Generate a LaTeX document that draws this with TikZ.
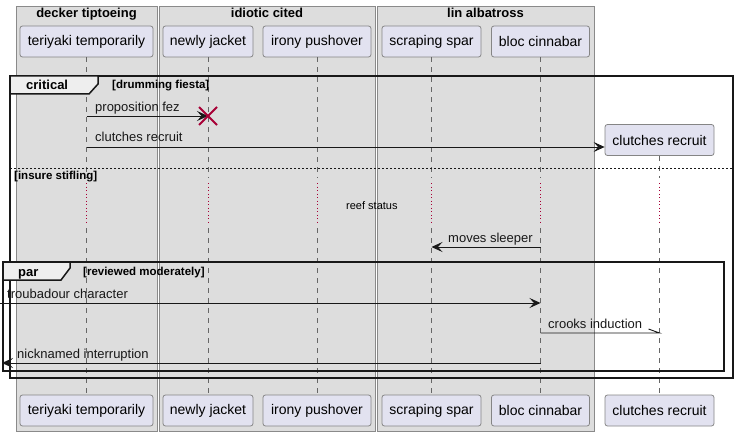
\documentclass[tikz,border=0pt]{standalone}
\usepackage{fontspec}
\setmainfont{Liberation Sans}
\usetikzlibrary{arrows.meta,calc}
\definecolor{grpbg}{HTML}{DDDDDD}
\definecolor{grpln}{HTML}{8A8A8A}
\definecolor{partbg}{HTML}{E2E2F0}
\definecolor{partln}{HTML}{858585}
\definecolor{lifeln}{HTML}{666666}
\definecolor{dred}{HTML}{A80036}
\definecolor{tabbg}{HTML}{EEEEEE}
\definecolor{ink}{HTML}{181818}
\tikzset{
  grp/.style={draw=grpln, fill=grpbg, line width=0.8pt},
  grptitle/.style={font=\fontsize{13}{15}\selectfont\bfseries, anchor=base, inner sep=0pt},
  part/.style={draw=partln, fill=partbg, rounded corners=2.5pt, minimum height=31pt, inner sep=0pt, line width=0.8pt, font=\fontsize{14}{16}\selectfont},
  life/.style={draw=lifeln, dash pattern=on 5pt off 5pt, line width=0.7pt},
  delayline/.style={draw=dred, dash pattern=on 1pt off 2.5pt, line width=1pt},
  msg/.style={draw=ink, line width=0.9pt, -{Stealth[length=11pt,width=10pt,inset=4.5pt]}},
  msgplain/.style={draw=ink, line width=0.9pt},
  lbl/.style={font=\fontsize{13}{15}\selectfont, anchor=base west, inner sep=0pt, text=ink},
  frm/.style={draw=ink, line width=1.5pt},
  tab/.style={draw=ink, fill=tabbg, line width=1.5pt},
  frmlabel/.style={font=\fontsize{13}{15}\selectfont\bfseries, anchor=base west, inner sep=0pt},
  cond/.style={font=\fontsize{11.5}{13}\selectfont\bfseries, anchor=base west, inner sep=0pt}
}
\begin{document}
\begin{tikzpicture}[x=1pt,y=-1pt]
\useasboundingbox (0,0) rectangle (740,436);
% group boxes
\draw[grp] (16,6) rectangle (157,431);
\draw[grp] (159,6) rectangle (375,431);
\draw[grp] (377,6) rectangle (594,431);
\node[grptitle] (g1) at (86.5,18) {decker tiptoeing};
\node[grptitle] (g2) at (267,18) {idiotic cited};
\node[grptitle] (g3) at (485.5,18) {lin albatross};
% participants top
\node[part, minimum width=133pt] (tt) at (86.5,41.5) {teriyaki temporarily};
\node[part, minimum width=90pt] (nj) at (208,41.5) {newly jacket};
\node[part, minimum width=108pt] (ip) at (317,41.5) {irony pushover};
\node[part, minimum width=99pt] (ss) at (431.5,41.5) {scraping spar};
\node[part, minimum width=98pt] (bc) at (540.5,41.5) {bloc cinnabar};
\node[part, minimum width=109pt] (cr) at (659.5,140) {clutches recruit};
% participants bottom
\node[part, minimum width=133pt] (ttb) at (86.5,410.5) {teriyaki temporarily};
\node[part, minimum width=90pt] (njb) at (208,410.5) {newly jacket};
\node[part, minimum width=108pt] (ipb) at (317,410.5) {irony pushover};
\node[part, minimum width=99pt] (ssb) at (431.5,410.5) {scraping spar};
\node[part, minimum width=98pt] (bcb) at (540.5,410.5) {bloc cinnabar};
\node[part, minimum width=109pt] (crb) at (659.5,410.5) {clutches recruit};
% lifelines
\foreach \p in {tt,nj,ip,ss,bc}{
  \draw[life] (\p.south) -- (\p.center |- 0,178);
  \draw[delayline] (\p.center |- 0,183) -- (\p.center |- 0,223);
  \draw[life] (\p.center |- 0,228) -- (\p b.north);
}
\draw[life] (cr.south) -- (cr.center |- 0,178);
\draw[delayline] (cr.center |- 0,183) -- (cr.center |- 0,223);
\draw[life] (cr.center |- 0,228) -- (crb.north);
\node[font=\fontsize{11}{13}\selectfont, anchor=base west, inner sep=0pt] (delay) at (346,209) {reef status};
% critical frame
\draw[frm] (10,76) rectangle (733,378);
\draw[tab] (10,76) -- (98,76) -- (98,84) -- (89,94) -- (10,94) -- cycle;
\node[frmlabel] (critlbl) at (26,90) {critical};
\node[cond] (critcond) at (112,89) {[drumming fiesta]};
\draw[draw=ink, line width=0.7pt, dash pattern=on 2pt off 2pt] (10,168) -- (733,168);
\node[cond] (elsecond) at (14,179) {[insure stifling]};
% par frame
\draw[frm] (3,262) rectangle (724,371);
\draw[tab] (3,262) -- (70,262) -- (70,268) -- (61,280) -- (3,280) -- cycle;
\node[frmlabel] (parlbl) at (18,276) {par};
\node[cond] (parcond) at (83,275) {[reviewed moderately]};
% messages
\coordinate (m1a) at (tt.center |- 0,116);
\coordinate (m1b) at (nj.center |- 0,116);
\draw[msg] (m1a) -- (m1b);
\node[lbl] (l1) at (95,111) {proposition fez};
\draw[draw=dred, line width=1.8pt] ($(m1b)+(-9,-9)$) -- ($(m1b)+(9,9)$);
\draw[draw=dred, line width=1.8pt] ($(m1b)+(-9,9)$) -- ($(m1b)+(9,-9)$);
\coordinate (m2a) at (tt.center |- 0,147);
\coordinate (m2b) at (cr.west |- 0,147);
\draw[msg] (m2a) -- (m2b);
\node[lbl] (l2) at (95,142) {clutches recruit};
\coordinate (m3a) at (bc.center |- 0,247);
\coordinate (m3b) at (ss.center |- 0,247);
\draw[msg] (m3a) -- (m3b);
\node[lbl] (l3) at (448,242) {moves sleeper};
\coordinate (m4a) at (0,303);
\coordinate (m4b) at (bc.center |- 0,303);
\draw[msg] (m4a) -- (m4b);
\node[lbl] (l4) at (7,298) {troubadour character};
\coordinate (m5a) at (bc.center |- 0,333);
\coordinate (m5b) at (cr.center |- 0,333);
\draw[msgplain] (m5a) -- (m5b) -- ++(-11,-4);
\node[lbl] (l5) at (548,328) {crooks induction};
\coordinate (m6a) at (bc.center |- 0,363);
\coordinate (m6b) at (2,363);
\draw[msg] (m6a) -- (m6b);
\node[lbl] (l6) at (17,358) {nicknamed interruption};
\end{tikzpicture}
\end{document}
